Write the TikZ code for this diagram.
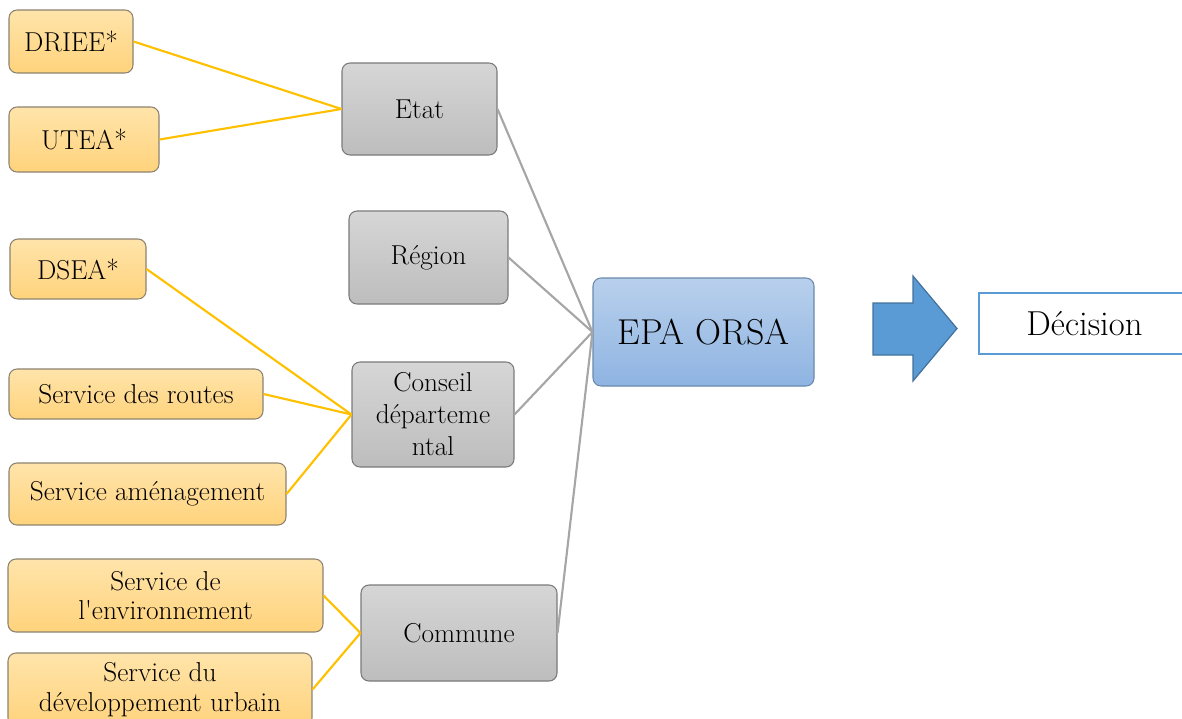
\documentclass[tikz,border=0pt]{standalone}
\usepackage{fontspec}
\definecolor{otop}{HTML}{FFE4AA}
\definecolor{obot}{HTML}{FFD37C}
\definecolor{oborder}{HTML}{8C8270}
\definecolor{gtop}{HTML}{D6D6D6}
\definecolor{gbot}{HTML}{BDBDBD}
\definecolor{gborder}{HTML}{7A7A7A}
\definecolor{btop}{HTML}{B8D0EC}
\definecolor{bbot}{HTML}{8FB4E2}
\definecolor{bborder}{HTML}{6A89AD}
\definecolor{arrfill}{HTML}{5B9BD5}
\definecolor{arrborder}{HTML}{41719C}
\definecolor{lineY}{HTML}{FFC000}
\definecolor{lineG}{HTML}{A6A6A6}
\begin{document}
\begin{tikzpicture}[x=0.75pt,y=-0.75pt,
  font=\fontsize{20.5}{24}\selectfont,
  bw/.style={minimum width=#1*0.75pt},
  bh/.style={minimum height=#1*0.75pt},
  base/.style={rounded corners=6pt, inner sep=0pt, align=center, line width=0.8pt},
  obox/.style={base, draw=oborder, top color=otop, bottom color=obot},
  gbox/.style={base, draw=gborder, top color=gtop, bottom color=gbot},
  yl/.style={draw=lineY, line width=1.6pt},
  gl/.style={draw=lineG, line width=1.6pt}]
\useasboundingbox (0,0) rectangle (1182,718);
\clip (0,0) rectangle (1182,718);

% orange boxes
\node[obox, bw=124, bh=63] (driee) at (71,41.5) {DRIEE*};
\node[obox, bw=150, bh=65] (utea) at (84,139.5) {UTEA*};
\node[obox, bw=136, bh=60] (dsea) at (78,269) {DSEA*};
\node[obox, bw=254, bh=50] (routes) at (136,394) {Service des routes};
\node[obox, bw=277, bh=62] (amen) at (147.5,494) {Service aménagement};
\node[obox, bw=315, bh=73, font=\fontsize{20.5}{22}\selectfont] (env) at (165.5,595.5) {Service de\\l\textquotesingle environnement};
\node[obox, bw=304, bh=73, font=\fontsize{20.5}{22}\selectfont] (dev) at (160,689.5) {Service du\\développement urbain};

% gray boxes
\node[gbox, bw=155, bh=92] (etat) at (419.5,109) {Etat};
\node[gbox, bw=159, bh=93] (region) at (428.5,257.5) {Région};
\node[gbox, bw=162, bh=105] (conseil) at (433,414.5) {Conseil\\départeme\\ntal};
\node[gbox, bw=196, bh=96] (commune) at (459,633) {Commune};

% central box
\node[base, draw=bborder, top color=btop, bottom color=bbot, bw=221, bh=108,
      font=\fontsize{27}{30}\selectfont] (epa) at (703.5,332) {EPA ORSA};

% decision
\node[draw=arrfill, line width=1.1pt, fill=white, inner sep=0pt, bw=211, bh=61,
      font=\fontsize{26}{28}\selectfont] (dec) at (1084.5,323.5) {Décision};

% block arrow
\draw[fill=arrfill, draw=arrborder, line width=0.9pt]
  (873,303) -- (913,303) -- (913,276) -- (957,328.5) -- (913,381) -- (913,355) -- (873,355) -- cycle;

% yellow connectors
\draw[yl] (driee.east) -- (etat.west);
\draw[yl] (utea.east) -- (etat.west);
\draw[yl] (dsea.east) -- (conseil.west);
\draw[yl] (routes.east) -- (conseil.west);
\draw[yl] (amen.east) -- (conseil.west);
\draw[yl] (env.east) -- (commune.west);
\draw[yl] (dev.east) -- (commune.west);

% gray connectors
\draw[gl] (etat.east) -- (epa.west);
\draw[gl] (region.east) -- (epa.west);
\draw[gl] (conseil.east) -- (epa.west);
\draw[gl] (commune.east) -- (epa.west);
\end{tikzpicture}
\end{document}
